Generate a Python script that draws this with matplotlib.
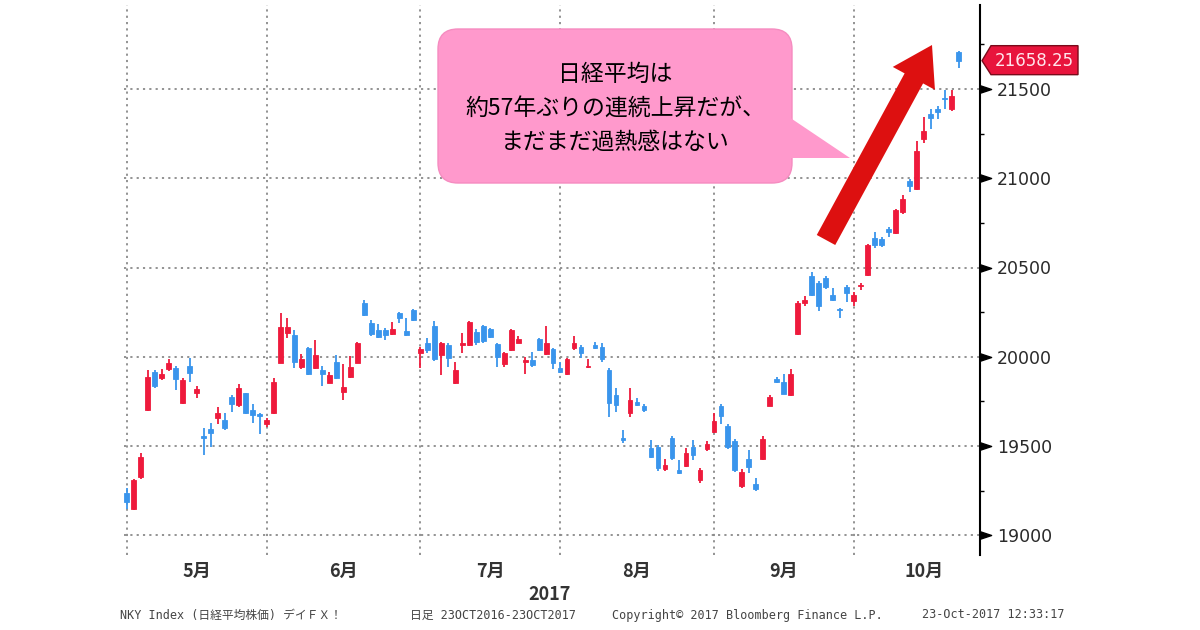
import numpy as np
import matplotlib.pyplot as plt
from matplotlib.patches import FancyBboxPatch, Polygon, FancyArrow
from matplotlib.ticker import MultipleLocator

plt.rcParams['font.family'] = ['DejaVu Sans', 'Noto Sans CJK JP']

# 日経平均 日足 2017/4/28 - 2017/10/23 (営業日インデックス)
opens = [19235, 19145, 19325, 19701, 19916, 19879, 19929, 19938, 19742, 19948,
         19795, 19556, 19593, 19655, 19645, 19776, 19729, 19795, 19701, 19680,
         19623, 19683, 19966, 20131, 20121, 19944, 20047, 19940, 19925, 19854,
         19972, 19804, 19888, 19966, 20299, 20190, 20149, 20149, 20127, 20243,
         20146, 20261, 20019, 20075, 20170, 20009, 20065, 19851, 20065, 20065,
         20140, 20172, 20153, 20071, 19959, 20037, 20078, 19970, 19981, 20097,
         20015, 20041, 19935, 19903, 20047, 20056, 19944, 20065, 20056, 19925,
         19785, 19548, 19683, 19748, 19724, 19487, 19496, 19370, 19545, 19366,
         19388, 19496, 19310, 19483, 19577, 19727, 19615, 19530, 19276, 19427,
         19286, 19427, 19727, 19878, 19859, 19784, 20128, 20301, 20451, 20414,
         20442, 20348, 20270, 20391, 20310, 20395, 20459, 20663, 20659, 20718,
         20691, 20811, 20987, 20941, 21219, 21357, 21385, 21450, 21385, 21709]
highs = [19268, 19318, 19463, 19925, 19925, 19929, 19985, 19948, 19879, 19991,
         19836, 19599, 19627, 19720, 19687, 19785, 19847, 19798, 19735, 19683,
         19655, 19879, 20243, 20220, 20149, 20015, 20056, 20093, 19948, 19916,
         20009, 19959, 20004, 20084, 20317, 20205, 20183, 20159, 20196, 20252,
         20215, 20270, 20056, 20103, 20200, 20084, 20075, 19972, 20131, 20202,
         20153, 20177, 20159, 20075, 20028, 20153, 20116, 20000, 20028, 20108,
         20172, 20052, 19972, 19996, 20116, 20065, 19985, 20084, 20075, 19935,
         19828, 19589, 19823, 19767, 19738, 19534, 19505, 19427, 19558, 19421,
         19487, 19533, 19375, 19530, 19684, 19733, 19624, 19539, 19370, 19477,
         19323, 19558, 19784, 19887, 19906, 19934, 20310, 20338, 20474, 20423,
         20451, 20385, 20273, 20404, 20361, 20414, 20630, 20700, 20672, 20728,
         20830, 20904, 20996, 21209, 21345, 21385, 21407, 21496, 21496, 21715]
lows = [19150, 19140, 19313, 19698, 19828, 19869, 19922, 19813, 19737, 19860,
        19772, 19450, 19496, 19623, 19590, 19692, 19720, 19679, 19630, 19570,
        19608, 19680, 19963, 20108, 19940, 19929, 19897, 19929, 19836, 19851,
        19873, 19757, 19884, 19963, 20228, 20116, 20108, 20093, 20121, 20187,
        20116, 20200, 19935, 20019, 19975, 19897, 19944, 19847, 20022, 20060,
        20065, 20075, 20108, 19944, 19944, 20034, 20075, 19903, 19944, 20034,
        20009, 19929, 19907, 19897, 20037, 19991, 19940, 20041, 19972, 19664,
        19692, 19519, 19664, 19724, 19690, 19436, 19362, 19362, 19424, 19343,
        19384, 19421, 19291, 19474, 19571, 19624, 19483, 19357, 19267, 19351,
        19248, 19421, 19722, 19853, 19789, 19778, 20122, 20282, 20338, 20259,
        20380, 20310, 20216, 20305, 20282, 20376, 20450, 20607, 20617, 20672,
        20685, 20802, 20922, 20935, 21196, 21274, 21333, 21385, 21376, 21617]
closes = [19188, 19310, 19440, 19888, 19836, 19903, 19963, 19873, 19869, 19907,
          19817, 19543, 19575, 19687, 19599, 19735, 19823, 19683, 19673, 19670,
          19645, 19860, 20168, 20168, 19972, 19985, 19903, 20009, 19903, 19897,
          19879, 19832, 19940, 20075, 20233, 20127, 20112, 20121, 20153, 20215,
          20121, 20205, 20041, 20037, 19990, 20078, 19991, 19925, 20078, 20196,
          20084, 20090, 20112, 20000, 20022, 20149, 20097, 19981, 19953, 20037,
          20075, 19963, 19916, 19985, 20075, 20019, 19951, 20047, 19985, 19739,
          19729, 19534, 19757, 19729, 19701, 19441, 19375, 19395, 19433, 19347,
          19459, 19450, 19366, 19511, 19643, 19671, 19492, 19365, 19357, 19380,
          19257, 19539, 19774, 19859, 19793, 19906, 20301, 20320, 20348, 20286,
          20391, 20320, 20263, 20357, 20348, 20404, 20626, 20626, 20626, 20700,
          20820, 20885, 20959, 21154, 21265, 21339, 21370, 21441, 21459, 21658]

month_labels = ['5月', '6月', '7月', '8月', '9月', '10月']
month_end = [0, 20, 42, 62, 84, 104]      # 各月の最終営業日
month_mid = [10, 31, 52, 73, 94, 114]
yticks = [19000, 19500, 20000, 20500, 21000, 21500]
last_price = 21658.25

W, H = 1200, 630
fig = plt.figure(figsize=(W / 100, H / 100), dpi=100)
ax = fig.add_axes([124 / W, 1 - 555 / H, (980 - 124) / W, (555 - 5) / H])

o = np.array(opens)
h = np.array(highs)
l = np.array(lows)
c = np.array(closes)
x = np.arange(len(o))
cols = np.where(c >= o, '#EE1A3C', '#3A95EC')

ax.vlines(x, l, h, colors=cols, lw=1.3, zorder=2)
ax.bar(x, c - o, bottom=o, width=0.68, color=cols, edgecolor=cols, linewidth=0.6, zorder=3)

dots = (0, (1.2, 2.3))
for m in month_end:
    ax.axvline(m, color='#8a8a8a', ls=dots, lw=1.3, zorder=1)
ax.grid(axis='y', color='#8a8a8a', ls=dots, lw=1.3)
ax.set_axisbelow(True)

ax.set_xlim(-0.39, 122.07)
ax.set_ylim(18890, 21970)

for s in ['top', 'left', 'bottom']:
    ax.spines[s].set_visible(False)
ax.spines['right'].set_linewidth(1.5)

ax.yaxis.tick_right()
ax.set_yticks(yticks)
ax.yaxis.set_minor_locator(MultipleLocator(250))
ax.tick_params(axis='y', which='major', length=0, pad=12, labelsize=12.5, labelcolor='#2a2a2a')
ax.tick_params(axis='y', which='minor', length=3, width=1, color='black', direction='out')
tri = [(0, -1), (3, 0), (0, 1)]
ax.plot(np.ones(len(yticks)), yticks, ls='none', marker=tri, ms=16, color='black',
        transform=ax.get_yaxis_transform(), clip_on=False)

ax.set_xticks(month_mid, month_labels)
ax.tick_params(axis='x', length=0, pad=5, labelsize=13, labelcolor='#333333')
for t in ax.get_xticklabels():
    t.set_fontweight('bold')
    t.set_family(['Noto Sans CJK JP'])

fig.text(550 / W, 1 - 595 / H, '2017', ha='center', va='center', fontsize=13,
         fontweight='bold', color='#333333', family=['Noto Sans CJK JP'])

# 注釈用のピクセル座標レイヤー
ov = fig.add_axes([0, 0, 1, 1])
ov.set_xlim(0, W)
ov.set_ylim(H, 0)
ov.axis('off')
ov.patch.set_alpha(0)

pink = '#FF99CC'
ov.add_patch(FancyBboxPatch((438, 29), 354, 154, boxstyle='round,pad=0,rounding_size=20',
                            facecolor=pink, edgecolor='#F58CC0', lw=1))
ov.add_patch(Polygon([(789, 117), (850, 158), (789, 158)], closed=True,
                     facecolor=pink, edgecolor='none'))
lines = ['日経平均は', '約57年ぶりの連続上昇だが、', 'まだまだ過熱感はない']
for txt, yy in zip(lines, [74, 108, 142]):
    ov.text(615, yy, txt, ha='center', va='center', fontsize=16.5, color='black',
            family=['Noto Sans CJK JP'])

ov.add_patch(FancyArrow(826, 240, 106, -195, width=21, head_width=48, head_length=38,
                        length_includes_head=True, color='#DD1010', lw=0))

# 現在値タグ
py = ov.transData.inverted().transform(ax.transData.transform((0, last_price)))[1]
ov.add_patch(Polygon([(982, py), (991, py - 15), (1078, py - 15), (1078, py + 14), (991, py + 14)],
                     closed=True, facecolor='#E8143C', edgecolor='#7A0A1A', lw=1))
ov.text(1034, py, '{:.2f}'.format(last_price), ha='center', va='center', fontsize=12,
        color='#FFE6EC')

mono = ['DejaVu Sans Mono', 'Noto Sans CJK JP']
footer = [(120, 'NKY Index (日経平均株価) デイＦＸ！'),
          (410, '日足 23OCT2016-23OCT2017'),
          (612, 'Copyright© 2017 Bloomberg Finance L.P.'),
          (922, '23-Oct-2017 12:33:17')]
for xx, s in footer:
    ov.text(xx, 615, s, ha='left', va='center', fontsize=8.5, color='#444444', family=mono)

fig.savefig('out.png', dpi=100)
